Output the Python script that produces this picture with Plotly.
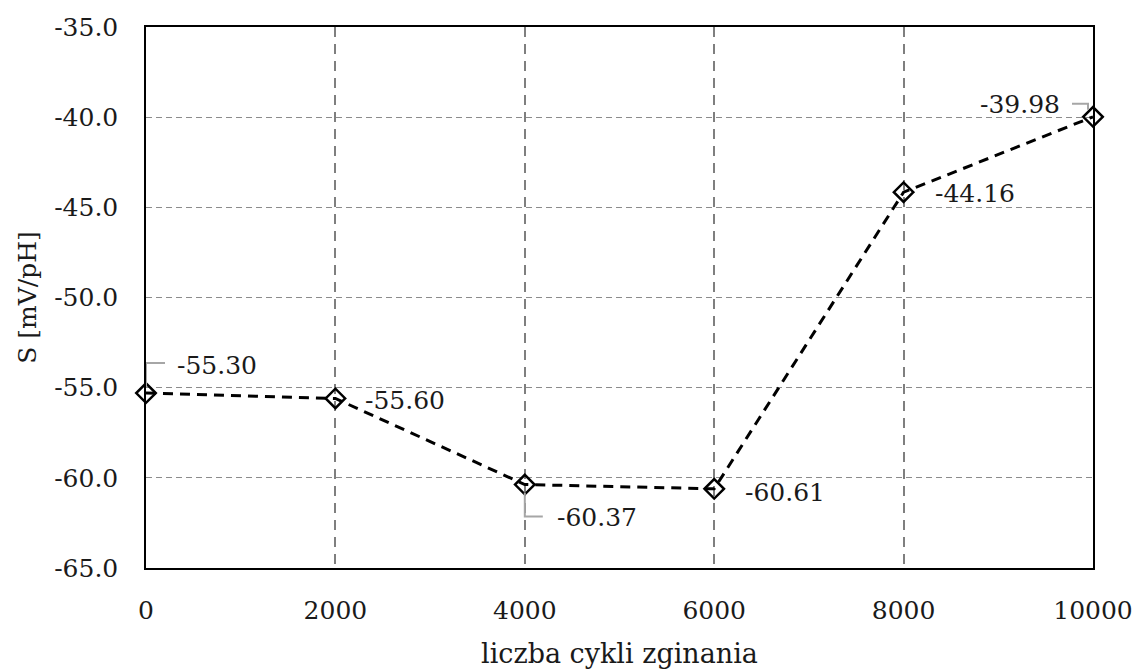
import plotly.graph_objects as go

# Flex-cycle test: sensitivity S vs number of bending cycles
cycles = [0, 2000, 4000, 6000, 8000, 10000]
sensitivity = [-55.30, -55.60, -60.37, -60.61, -44.16, -39.98]
label_text = ["-55.30", "-55.60", "-60.37", "-60.61", "-44.16", "-39.98"]

x_ticks = [0, 2000, 4000, 6000, 8000, 10000]
y_ticks = [-65, -60, -55, -50, -45, -40, -35]

# label offsets (pixels) relative to each point
label_dx = [71, 70, 72, 71, 71, -73]
label_dy = [28, -2, -33, -4, -1, 12]

# leader lines drawn as pixel paths anchored at the point (None = no leader)
leaders = [
    "M0,6 L0,30 L19,30",
    None,
    "M0,-8 L0,-32 L18,-32",
    None,
    None,
    "M-21,13 L-5,13 L-5,7",
]

FONT = "DejaVu Serif"
TXT = "#1a1a1a"

fig = go.Figure()
fig.add_trace(go.Scatter(
    x=cycles, y=sensitivity,
    mode="lines+markers",
    line=dict(color="black", width=3, dash="10px,7px"),
    marker=dict(symbol="diamond-open", size=15, color="black",
                line=dict(color="black", width=2.5)),
    cliponaxis=False,
    showlegend=False,
))

for xv, yv, t, dx, dy in zip(cycles, sensitivity, label_text, label_dx, label_dy):
    fig.add_annotation(x=xv, y=yv, text=t, showarrow=False,
                       xshift=dx, yshift=dy,
                       font=dict(family=FONT, size=25, color=TXT))

for xv, yv, p in zip(cycles, sensitivity, leaders):
    if p is None:
        continue
    fig.add_shape(type="path", xref="x", yref="y",
                  xsizemode="pixel", ysizemode="pixel",
                  xanchor=xv, yanchor=yv, path=p,
                  line=dict(color="#a6a6a6", width=2))

fig.update_layout(
    width=1139, height=671,
    margin=dict(l=146, r=46, t=27, b=103),
    paper_bgcolor="white", plot_bgcolor="white",
    font=dict(family=FONT, size=25, color=TXT),
)
fig.update_xaxes(
    range=[0, 10000], tickvals=x_ticks, ticktext=[str(v) for v in x_ticks],
    showline=True, linecolor="black", linewidth=1.5, mirror=True,
    showgrid=True, gridcolor="#7f7f7f", gridwidth=2, griddash="10px,7px",
    zeroline=False, ticklabelstandoff=19, automargin=False,
    title=dict(text="liczba cykli zginania", standoff=20,
               font=dict(family=FONT, size=27, color=TXT)),
)
fig.update_yaxes(
    range=[-65, -35], tickvals=y_ticks,
    ticktext=[f"{v:.1f}" for v in y_ticks],
    showline=True, linecolor="black", linewidth=1.5, mirror=True,
    showgrid=True, gridcolor="#8c8c8c", gridwidth=1, griddash="6px,4px",
    zeroline=False, ticklabelstandoff=21, automargin=False,
    title=dict(text="S [mV/pH]", standoff=10,
               font=dict(family=FONT, size=25, color=TXT)),
)

fig.write_html("out.html")
